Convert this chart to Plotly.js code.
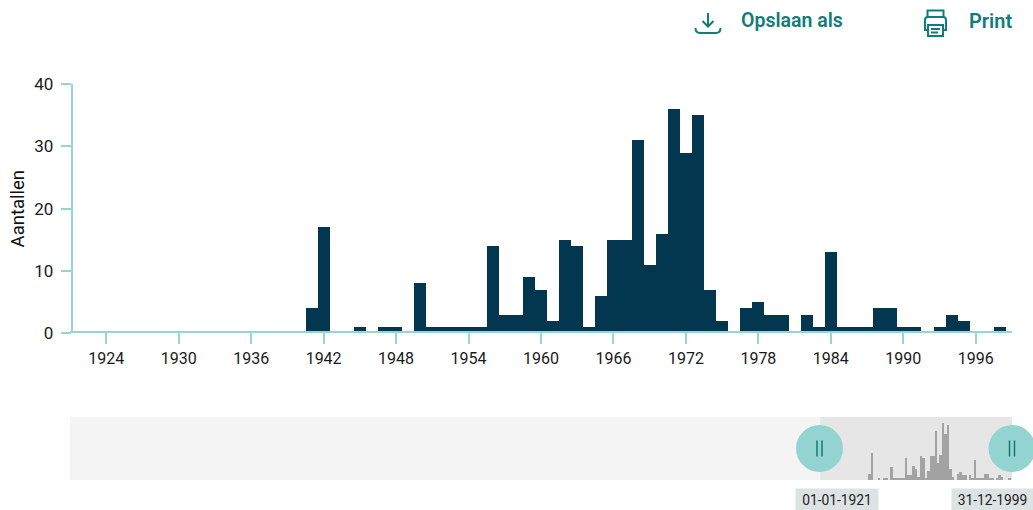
<!DOCTYPE html>
<html><head><meta charset="utf-8">
<script src="https://cdn.plot.ly/plotly-3.0.1.min.js"></script>
<style>html,body{margin:0;padding:0;background:#fff;overflow:hidden}#c{width:1033px;height:510px}</style>
</head><body><div id="c"></div>
<script>
const years = [1941,1942,1943,1944,1945,1946,1947,1948,1949,1950,1951,1952,1953,1954,1955,1956,1957,1958,1959,1960,1961,1962,1963,1964,1965,1966,1967,1968,1969,1970,1971,1972,1973,1974,1975,1976,1977,1978,1979,1980,1981,1982,1983,1984,1985,1986,1987,1988,1989,1990,1991,1992,1993,1994,1995,1996,1997,1998];
const counts = [4,17,0,0,1,0,1,1,0,8,1,1,1,1,1,14,3,3,9,7,2,15,14,1,6,15,15,31,11,16,36,29,35,7,2,0,4,5,3,3,0,3,1,13,1,1,1,4,4,1,1,0,1,3,2,0,0,1];
const xTickVals = [1924,1930,1936,1942,1948,1954,1960,1966,1972,1978,1984,1990,1996];
const yTickVals = [0,10,20,30,40];
const rangeStart = 1921, rangeEnd = 1999, overviewStart = 1616;
const startLabel = '01-01-1921', endLabel = '31-12-1999';

const W=1033,H=510,ML=70,MR=21,MT=84,MB=30;
const px=x=>(x-ML)/(W-ML-MR), py=y=>1-(y-MT)/(H-MT-MB);
const TEAL='#0f7d78', AXIS='#97d5d0', FONT='Roboto, sans-serif';
const icon=(path)=>({type:'path',xref:'paper',yref:'paper',path:path.replace(/(-?[\d.]+),(-?[\d.]+)/g,(m,a,b)=>px(+a).toFixed(5)+','+py(+b).toFixed(5)),line:{color:TEAL,width:2},fillcolor:'rgba(0,0,0,0)'});

const shapes=[
 {type:'rect',xref:'x2',yref:'y2 domain',x0:overviewStart,x1:rangeEnd,y0:0,y1:1,fillcolor:'#f4f4f4',line:{width:0},layer:'below'},
 {type:'rect',xref:'x2',yref:'y2 domain',x0:rangeStart,x1:rangeEnd,y0:0,y1:1,fillcolor:'#e6e6e6',line:{width:0},layer:'below'},
];
[px(819.5),px(1012)].forEach(v=>{
 const yc=py(448.5);
 shapes.push({type:'circle',xref:'paper',yref:'paper',xsizemode:'pixel',ysizemode:'pixel',xanchor:v,yanchor:yc,x0:-23.5,x1:23.5,y0:-23.5,y1:23.5,fillcolor:'#93d4d1',line:{width:0}});
 [-2.5,2.5].forEach(d=>shapes.push({type:'line',xref:'paper',yref:'paper',xsizemode:'pixel',ysizemode:'pixel',xanchor:v,yanchor:yc,x0:d,x1:d,y0:-8,y1:8,line:{color:'#1b6e6a',width:1.4}}));
});
// download icon
shapes.push(icon('M708,13 L708,26'),icon('M702.5,21 L708,26.5 L713.5,21'),icon('M695.5,28 C695.5,31 697,33 700,33 L716,33 C719,33 720.5,31 720.5,28'));
// printer icon
shapes.push(icon('M927.5,17 L927.5,10.5 L943.5,10.5 L943.5,17'),
 icon('M928,30 L925,30 L925,20 C925,18 926,17 928,17 L943,17 C945,17 946,18 946,20 L946,30 L943,30'),
 icon('M928,25 L943,25 L943,36 L928,36 Z'),icon('M931,29 L940,29'),icon('M931,32.5 L938,32.5'));

const anns=[
 {xref:'paper',yref:'paper',x:px(739),y:py(21),xanchor:'left',yanchor:'middle',text:'Opslaan als',showarrow:false,font:{family:FONT,size:19.5,weight:600,color:TEAL}},
 {xref:'paper',yref:'paper',x:px(966.5),y:py(21),xanchor:'left',yanchor:'middle',text:'Print',showarrow:false,font:{family:FONT,size:20,weight:600,color:TEAL}},
 {xref:'paper',yref:'paper',x:px(837),y:py(499.5),xanchor:'center',yanchor:'middle',width:82,height:21,align:'center',valign:'middle',text:startLabel,showarrow:false,bgcolor:'#dde3e3',borderpad:0,font:{family:FONT,size:13.8,color:'#222'}},
 {xref:'paper',yref:'paper',x:px(992.5),y:py(499.5),xanchor:'center',yanchor:'middle',width:81,height:21,align:'center',valign:'middle',text:endLabel,showarrow:false,bgcolor:'#dde3e3',borderpad:0,font:{family:FONT,size:13.8,color:'#222'}},
];

const yDomainStart=(480-333.3)/396;
Plotly.newPlot('c',[
 {type:'bar',x:years,y:counts,width:1,marker:{color:'#02374f',line:{width:0}},xaxis:'x',yaxis:'y',hoverinfo:'x+y'},
 {type:'bar',x:years,y:counts,width:1,marker:{color:'#a3a3a3',line:{width:0}},xaxis:'x2',yaxis:'y2',hoverinfo:'skip'}
],{
 width:W,height:H,margin:{l:ML,r:MR,t:MT,b:MB,pad:0},paper_bgcolor:'#fff',plot_bgcolor:'rgba(0,0,0,0)',
 showlegend:false,bargap:0,font:{family:FONT,size:15,color:'#1a1a1a'},
 xaxis:{domain:[0,1],anchor:'free',position:yDomainStart+1/396,range:[rangeStart,rangeEnd],tickmode:'array',tickvals:xTickVals,ticks:'outside',ticklen:11,tickwidth:2,tickcolor:AXIS,showline:true,linecolor:AXIS,linewidth:2,showgrid:false,zeroline:false,tickfont:{family:FONT,size:16,color:'#1a1a1a'}},
 yaxis:{domain:[yDomainStart,1],anchor:'free',position:1.7/942,range:[0,40],tickmode:'array',tickvals:yTickVals,ticks:'outside',ticklen:10,tickwidth:2,tickcolor:AXIS,showline:true,linecolor:AXIS,linewidth:2,showgrid:false,zeroline:false,ticklabelstandoff:4,tickfont:{family:FONT,size:17,color:'#1a1a1a'},title:{text:'Aantallen',standoff:4,font:{family:FONT,size:18.5,color:'#111'}}},
 xaxis2:{domain:[0,1],anchor:'y2',range:[overviewStart,rangeEnd],visible:false},
 yaxis2:{domain:[0,63/396],anchor:'x2',range:[0,40],visible:false},
 shapes:shapes,annotations:anns
},{displayModeBar:false,responsive:false});
</script></body></html>
